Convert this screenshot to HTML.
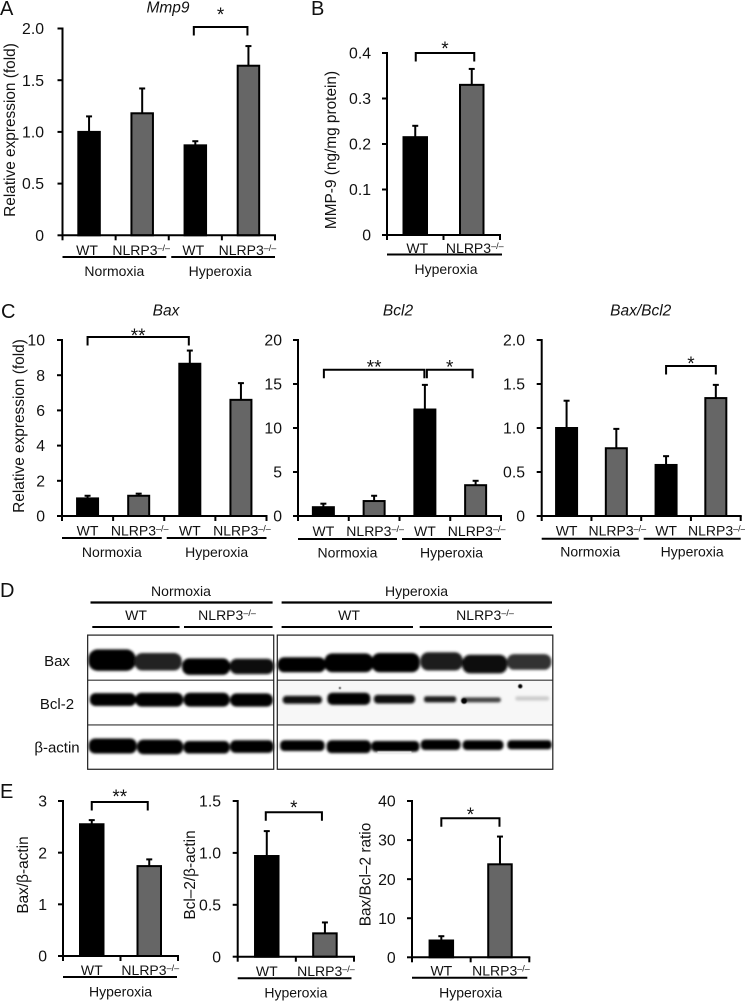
<!DOCTYPE html>
<html lang="en">
<head>
<meta charset="utf-8">
<title>Mmp9, Bax and Bcl2 expression in WT and NLRP3 knockout under normoxia and hyperoxia</title>
<style>
  html, body { margin: 0; padding: 0; background: #fff; }
  svg { display: block; }
  text { font-family: "Liberation Sans", "DejaVu Sans", sans-serif; fill: #111; }
</style>
</head>
<body>
<svg id="figure" xmlns="http://www.w3.org/2000/svg" width="745" height="1001" viewBox="0 0 745 1001">
  <defs>
    <filter id="band-blur" x="-20%" y="-60%" width="140%" height="220%"><feGaussianBlur stdDeviation="3.5"/></filter>
    <filter id="speck-blur" x="-50%" y="-50%" width="200%" height="200%"><feGaussianBlur stdDeviation="1.5"/></filter>
  </defs>

  <text x="0" y="15" font-size="20">A</text>
  <text x="311" y="15" font-size="20">B</text>
  <text x="1" y="318" font-size="20">C</text>
  <text x="0" y="597" font-size="20">D</text>
  <text x="0" y="798" font-size="20">E</text>

  <g id="chart-a"></g>
  <g id="chart-b"></g>
  <g id="chart-c1"></g>
  <g id="chart-c2"></g>
  <g id="chart-c3"></g>
  <g id="chart-e1"></g>
  <g id="chart-e2"></g>
  <g id="chart-e3"></g>

  <!-- Panel D: western blot -->
  <g>
    <text x="181" y="596" font-size="14" text-anchor="middle">Normoxia</text>
    <text x="416.5" y="596" font-size="14" text-anchor="middle">Hyperoxia</text>
    <line x1="90.5" x2="272.6" y1="602.5" y2="602.5" stroke="#000" stroke-width="2.2"/>
    <line x1="281.6" x2="552" y1="602.5" y2="602.5" stroke="#000" stroke-width="2.2"/>
    <text x="136" y="620" font-size="14" text-anchor="middle">WT</text>
    <text x="227" y="620" font-size="14" text-anchor="middle">NLRP3<tspan font-size="9" dy="-4">–/–</tspan></text>
    <text x="349" y="620" font-size="14" text-anchor="middle">WT</text>
    <text x="485" y="620" font-size="14" text-anchor="middle">NLRP3<tspan font-size="9" dy="-4">–/–</tspan></text>
    <line x1="92.3" x2="179.6" y1="627" y2="627" stroke="#000" stroke-width="2"/>
    <line x1="184" x2="272.6" y1="627" y2="627" stroke="#000" stroke-width="2"/>
    <line x1="281.6" x2="413" y1="627" y2="627" stroke="#000" stroke-width="2"/>
    <line x1="419.7" x2="552" y1="627" y2="627" stroke="#000" stroke-width="2"/>

    <text x="57" y="666" font-size="15" text-anchor="middle">Bax</text>
    <text x="57" y="709" font-size="15" text-anchor="middle">Bcl-2</text>
    <text x="57" y="752.5" font-size="15" text-anchor="middle">β-actin</text>

    <g transform="translate(0,580) scale(0.3578)">
      <rect x="775" y="282" width="770" height="122" fill="#f7f7f7"/>
      <g filter="url(#band-blur)">
        <rect x="247" y="194" width="132" height="60" rx="26" fill="#000"/>
        <rect x="376" y="204" width="132" height="49" rx="22" fill="#222"/>
        <rect x="509" y="219" width="134" height="46" rx="20" fill="#000"/>
        <rect x="642" y="220" width="124" height="43" rx="20" fill="#111"/>
        <rect x="775" y="216" width="136" height="42" rx="20" fill="#000"/>
        <rect x="907" y="205" width="136" height="53" rx="22" fill="#000"/>
        <rect x="1039" y="204" width="134" height="54" rx="22" fill="#000"/>
        <rect x="1175" y="202" width="118" height="51" rx="22" fill="#1a1a1a"/>
        <rect x="1292" y="209" width="126" height="52" rx="22" fill="#111"/>
        <rect x="1417" y="207" width="124" height="44" rx="20" fill="#333"/>

        <rect x="251" y="316" width="129" height="36" rx="16" fill="#000"/>
        <rect x="378" y="315" width="134" height="39" rx="18" fill="#000"/>
        <rect x="513" y="315" width="129" height="39" rx="18" fill="#000"/>
        <rect x="643" y="317" width="120" height="37" rx="18" fill="#000"/>
        <rect x="790" y="324" width="110" height="22" rx="10" fill="#111"/>
        <rect x="915" y="315" width="120" height="34" rx="14" fill="#000"/>
        <rect x="1045" y="321" width="115" height="24" rx="10" fill="#111"/>
        <rect x="1185" y="325" width="90" height="17" rx="7" fill="#1a1a1a"/>
        <rect x="1290" y="328" width="110" height="14" rx="7" fill="#444"/>
        <rect x="1440" y="325" width="95" height="12" rx="6" fill="#ccc"/>

        <rect x="248" y="443" width="134" height="42" rx="18" fill="#000"/>
        <rect x="383" y="446" width="129" height="41" rx="18" fill="#000"/>
        <rect x="513" y="450" width="129" height="35" rx="15" fill="#000"/>
        <rect x="643" y="448" width="122" height="35" rx="15" fill="#000"/>
        <rect x="783" y="448" width="124" height="30" rx="12" fill="#000"/>
        <rect x="913" y="448" width="124" height="36" rx="14" fill="#000"/>
        <rect x="1038" y="450" width="134" height="30" rx="12" fill="#000"/>
        <rect x="1176" y="446" width="111" height="29" rx="12" fill="#000"/>
        <rect x="1293" y="448" width="114" height="27" rx="11" fill="#000"/>
        <rect x="1418" y="448" width="124" height="25" rx="10" fill="#000"/>
      </g>
      <g filter="url(#speck-blur)">
        <circle cx="1454" cy="297" r="6" fill="#000"/>
        <circle cx="950" cy="302" r="3" fill="#333"/>
        <circle cx="1297" cy="338" r="8" fill="#000"/>
        <rect x="1055" y="479" width="95" height="7" fill="#eee"/>
      </g>
      <line x1="245" x2="765" y1="280" y2="280" stroke="#333" stroke-width="3"/>
      <line x1="245" x2="765" y1="405" y2="405" stroke="#333" stroke-width="3"/>
      <line x1="775" x2="1545" y1="280" y2="280" stroke="#333" stroke-width="3"/>
      <line x1="775" x2="1545" y1="405" y2="405" stroke="#333" stroke-width="3"/>
      <rect x="245" y="154" width="520" height="375" fill="none" stroke="#222" stroke-width="3.4"/>
      <rect x="775" y="154" width="770" height="375" fill="none" stroke="#222" stroke-width="3.4"/>
    </g>
  </g>
</svg>

<script>
// ---------- chart data ----------
const categories4 = ['WT', 'NLRP3', 'WT', 'NLRP3'];
const categories2 = ['WT', 'NLRP3'];
const groups2 = ['Normoxia', 'Hyperoxia'];
const groups1 = ['Hyperoxia'];

const mmp9Values = [1.0, 1.18, 0.87, 1.64];
const mmp9Errors = [0.15, 0.24, 0.04, 0.19];
const mmp9Ticks = [0, 0.5, 1.0, 1.5, 2.0];
const mmp9TickLabels = ['0', '0.5', '1.0', '1.5', '2.0'];

const mmp9ProteinValues = [0.215, 0.33];
const mmp9ProteinErrors = [0.025, 0.035];
const mmp9ProteinTicks = [0, 0.1, 0.2, 0.3, 0.4];
const mmp9ProteinTickLabels = ['0', '0.1', '0.2', '0.3', '0.4'];

const baxValues = [1.0, 1.15, 8.65, 6.6];
const baxErrors = [0.15, 0.12, 0.75, 0.95];
const baxTicks = [0, 2, 4, 6, 8, 10];
const baxTickLabels = ['0', '2', '4', '6', '8', '10'];

const bcl2Values = [1.0, 1.7, 12.1, 3.5];
const bcl2Errors = [0.4, 0.6, 2.8, 0.5];
const bcl2Ticks = [0, 5, 10, 15, 20];
const bcl2TickLabels = ['0', '5', '10', '15', '20'];

const baxBcl2Values = [1.0, 0.77, 0.58, 1.34];
const baxBcl2Errors = [0.31, 0.22, 0.1, 0.15];
const baxBcl2Ticks = [0, 0.5, 1.0, 1.5, 2.0];
const baxBcl2TickLabels = ['0', '0.5', '1.0', '1.5', '2.0'];

const baxActinValues = [2.55, 1.74];
const baxActinErrors = [0.08, 0.13];
const baxActinTicks = [0, 1, 2, 3];
const baxActinTickLabels = ['0', '1', '2', '3'];

const bcl2ActinValues = [0.97, 0.225];
const bcl2ActinErrors = [0.24, 0.105];
const bcl2ActinTicks = [0, 0.5, 1.0, 1.5];
const bcl2ActinTickLabels = ['0', '0.5', '1.0', '1.5'];

const ratioValues = [4.3, 23.8];
const ratioErrors = [1.1, 7.1];
const ratioTicks = [0, 10, 20, 30, 40];
const ratioTickLabels = ['0', '10', '20', '30', '40'];

// ---------- drawing helpers ----------
const NS = 'http://www.w3.org/2000/svg';

function mk(parent, tag, attrs, text) {
  const el = document.createElementNS(NS, tag);
  for (const k in attrs) el.setAttribute(k, attrs[k]);
  if (text !== undefined) el.textContent = text;
  parent.appendChild(el);
  return el;
}

function scales(g) {
  const top = g.ticks[g.ticks.length - 1];
  const slot = (g.end - g.x0) / g.cats.length;
  return {
    y: v => g.y0 - (v / top) * (g.y0 - g.yTop),
    band: i => g.x0 + (i + 0.5) * slot,
    slot: slot
  };
}

function drawChart(parentId, g) {
  const root = document.getElementById(parentId);
  const s = scales(g);

  // title
  if (g.title) {
    const title = mk(root, 'text', { x: g.titleX, y: g.titleY, 'font-size': 15.5, 'font-style': 'italic', 'text-anchor': 'middle' }, g.title);
    
    
  }

  // y axis title
  const yTitle = mk(root, 'text', { transform: 'translate(' + g.yLabelX + ',' + g.yLabelCy + ') rotate(-90)', 'font-size': 15.4, 'text-anchor': 'middle' }, g.yLabel || '');
  
  

  // error bars and bars
  g.values.forEach((v, i) => {
    const cx = s.band(i);
    const top = s.y(v + g.errors[i]);
    const stem = mk(root, 'line', { x1: cx, x2: cx, y1: s.y(v), y2: top, stroke: '#000', 'stroke-width': 2 });
    
    
    const cap = mk(root, 'line', { x1: cx - 3, x2: cx + 3, y1: top, y2: top, stroke: '#000', 'stroke-width': 2 });
    
    
    const bar = mk(root, 'rect', {
      x: cx - g.barW / 2, y: s.y(v), width: g.barW, height: g.y0 - s.y(v),
      fill: g.cats[i] === 'WT' ? '#000' : '#666', stroke: '#000', 'stroke-width': 2
    });
    
    
  });

  // y axis with ticks
  const yAxis = mk(root, 'line', { x1: g.x0, x2: g.x0, y1: g.yTop - 1, y2: g.y0 + 1, stroke: '#000', 'stroke-width': 2 });
  
  
  g.ticks.forEach((t, i) => {
    const tick = mk(root, 'line', { x1: g.x0 - 5, x2: g.x0, y1: s.y(t), y2: s.y(t), stroke: '#000', 'stroke-width': 2 });
    
    
    const label = mk(root, 'text', { x: g.tickRight, y: s.y(t) + 5.6, 'font-size': 15.8, 'text-anchor': 'end' }, g.tickLabels[i]);
    
    
  });

  // x axis with ticks
  const xAxis = mk(root, 'line', { x1: g.x0 - 1, x2: g.end + 1, y1: g.y0, y2: g.y0, stroke: '#000', 'stroke-width': 2 });
  
  
  for (let i = 0; i <= g.cats.length; i++) {
    const tx = g.x0 + i * s.slot;
    const xTick = mk(root, 'line', { x1: tx, x2: tx, y1: g.y0, y2: g.y0 + 5, stroke: '#000', 'stroke-width': 2 });
    
    
  }

  // category labels
  g.cats.forEach((c, i) => {
    const label = mk(root, 'text', { x: s.band(i) + (c === 'WT' ? 0 : 1) + (g.catDx || 0), y: g.catY, 'font-size': 14, 'text-anchor': 'middle' }, c);
    
    
    if (c !== 'WT') {
      mk(label, 'tspan', { 'font-size': 9, dy: -4 }, '–/–');
    }
  });

  // group underlines and labels
  const n = g.groups.length;
  const groupW = (g.end - g.x0) / n;
  g.groups.forEach((name, i) => {
    const a = g.x0 + i * groupW + (i > 0 ? 2.5 : 0);
    const b = g.x0 + (i + 1) * groupW - (i < n - 1 ? 2.5 : 0);
    const line = mk(root, 'line', { x1: a, x2: b + (g.lineExtra || 0), y1: g.lineY, y2: g.lineY, stroke: '#000', 'stroke-width': 2 });
    
    
    const label = mk(root, 'text', { x: (a + b) / 2 + (i === n - 1 ? (g.groupDx || 0) : 0), y: g.groupY, 'font-size': 14, 'text-anchor': 'middle' }, name);
    
    
  });
}

function drawBracket(parentId, g, from, to, topY, stars, starCy, dxA, dxB) {
  const root = document.getElementById(parentId);
  const s = scales(g);
  const a = s.band(from) + (dxA || 0);
  const b = s.band(to) + (dxB || 0);
  const path = mk(root, 'path', {
    d: 'M' + a + ' ' + (topY + 8.5) + 'V' + topY + 'H' + b + 'V' + (topY + 8.5),
    fill: 'none', stroke: '#000', 'stroke-width': 2
  });
  
  
  const star = mk(root, 'text', { x: (a + b) / 2, y: starCy + 11, 'font-size': 19, 'text-anchor': 'middle' }, stars);
  
  
}

// ---------- charts ----------
const geoA = {
  cats: categories4, groups: groups2, values: mmp9Values, errors: mmp9Errors, ticks: mmp9Ticks, tickLabels: mmp9TickLabels,
  x0: 62.5, end: 275, yTop: 28.5, y0: 235.3, barW: 21.5, tickRight: 44, catY: 255, catDx: -2, lineY: 257, groupY: 276, groupDx: -3,
  title: 'Mmp9', titleX: 168, titleY: 12.5, yLabel: 'Relative expression (fold)', yLabelX: 15, yLabelCy: 130
};
drawChart('chart-a', geoA);
drawBracket('chart-a', geoA, 2, 3, 27, '*', 10, -1.5, -1);

const geoB = {
  cats: categories2, groups: groups1, values: mmp9ProteinValues, errors: mmp9ProteinErrors, ticks: mmp9ProteinTicks, tickLabels: mmp9ProteinTickLabels,
  x0: 387, end: 500, yTop: 53, y0: 235, barW: 23.5, tickRight: 371, catY: 253, catDx: 2, lineY: 254.5, lineExtra: 2, groupY: 274, groupDx: 2.5,
  yLabel: 'MMP-9 (ng/mg protein)', yLabelX: 336, yLabelCy: 150
};
drawChart('chart-b', geoB);
drawBracket('chart-b', geoB, 0, 1, 53, '*', 44, 0.5, 2.5);

const geoC1 = {
  cats: categories4, groups: groups2, values: baxValues, errors: baxErrors, ticks: baxTicks, tickLabels: baxTickLabels,
  x0: 62, end: 266.5, yTop: 340, y0: 516, barW: 21, tickRight: 45, catY: 535.7, lineY: 538, groupY: 557,
  title: 'Bax', titleX: 166, titleY: 315.7, yLabel: 'Relative expression (fold)', yLabelX: 24, yLabelCy: 426
};
drawChart('chart-c1', geoC1);
drawBracket('chart-c1', geoC1, 0, 2, 337, '**', 331, 0, -1);

const geoC2 = {
  cats: categories4, groups: groups2, values: bcl2Values, errors: bcl2Errors, ticks: bcl2Ticks, tickLabels: bcl2TickLabels,
  x0: 298, end: 501, yTop: 340, y0: 516, barW: 21, tickRight: 282, catY: 536, lineY: 539, groupY: 557.7,
  title: 'Bcl2', titleX: 398, titleY: 315.7, yLabel: '', yLabelX: 0, yLabelCy: 0
};
drawChart('chart-c2', geoC2);
drawBracket('chart-c2', geoC2, 0, 2, 369.7, '**', 362.7, 0.5, -0.5);
drawBracket('chart-c2', geoC2, 2, 3, 369.7, '*', 362.7, 2, -3);

const geoC3 = {
  cats: categories4, groups: groups2, values: baxBcl2Values, errors: baxBcl2Errors, ticks: baxBcl2Ticks, tickLabels: baxBcl2TickLabels,
  x0: 541.7, end: 740.7, yTop: 340, y0: 516, barW: 21, tickRight: 525, catY: 535.7, lineY: 538.7, groupY: 556.7,
  title: 'Bax/Bcl2', titleX: 640.7, titleY: 315.7, yLabel: '', yLabelX: 0, yLabelCy: 0
};
drawChart('chart-c3', geoC3);
drawBracket('chart-c3', geoC3, 2, 3, 366, '*', 359, 0, 0);

const geoE1 = {
  cats: categories2, groups: groups1, values: baxActinValues, errors: baxActinErrors, ticks: baxActinTicks, tickLabels: baxActinTickLabels,
  x0: 63, end: 178, yTop: 801, y0: 956, barW: 23.5, tickRight: 47, catY: 975, lineY: 977, lineExtra: -1, groupY: 996.7,
  yLabel: 'Bax/β-actin', yLabelX: 28, yLabelCy: 875
};
drawChart('chart-e1', geoE1);
drawBracket('chart-e1', geoE1, 0, 1, 802, '**', 792, 0, -1.5);

const geoE2 = {
  cats: categories2, groups: groups1, values: bcl2ActinValues, errors: bcl2ActinErrors, ticks: bcl2ActinTicks, tickLabels: bcl2ActinTickLabels,
  x0: 237.7, end: 354, yTop: 801, y0: 956.7, barW: 23.5, tickRight: 221, catY: 976, lineY: 978.3, lineExtra: -2.5, groupY: 997.3,
  yLabel: 'Bcl–2/β-actin', yLabelX: 195, yLabelCy: 875
};
drawChart('chart-e2', geoE2);
drawBracket('chart-e2', geoE2, 0, 1, 812.3, '*', 803, -1, -3);

const geoE3 = {
  cats: categories2, groups: groups1, values: ratioValues, errors: ratioErrors, ticks: ratioTicks, tickLabels: ratioTickLabels,
  x0: 412, end: 529.3, yTop: 801, y0: 957.3, barW: 23.5, tickRight: 395.7, catY: 975.7, lineY: 977.7, lineExtra: -2, groupY: 997.3,
  yLabel: 'Bax/Bcl–2 ratio', yLabelX: 370.7, yLabelCy: 874.5
};
drawChart('chart-e3', geoE3);
drawBracket('chart-e3', geoE3, 0, 1, 818.3, '*', 810, 0, -0.5);
</script>
</body>
</html>
